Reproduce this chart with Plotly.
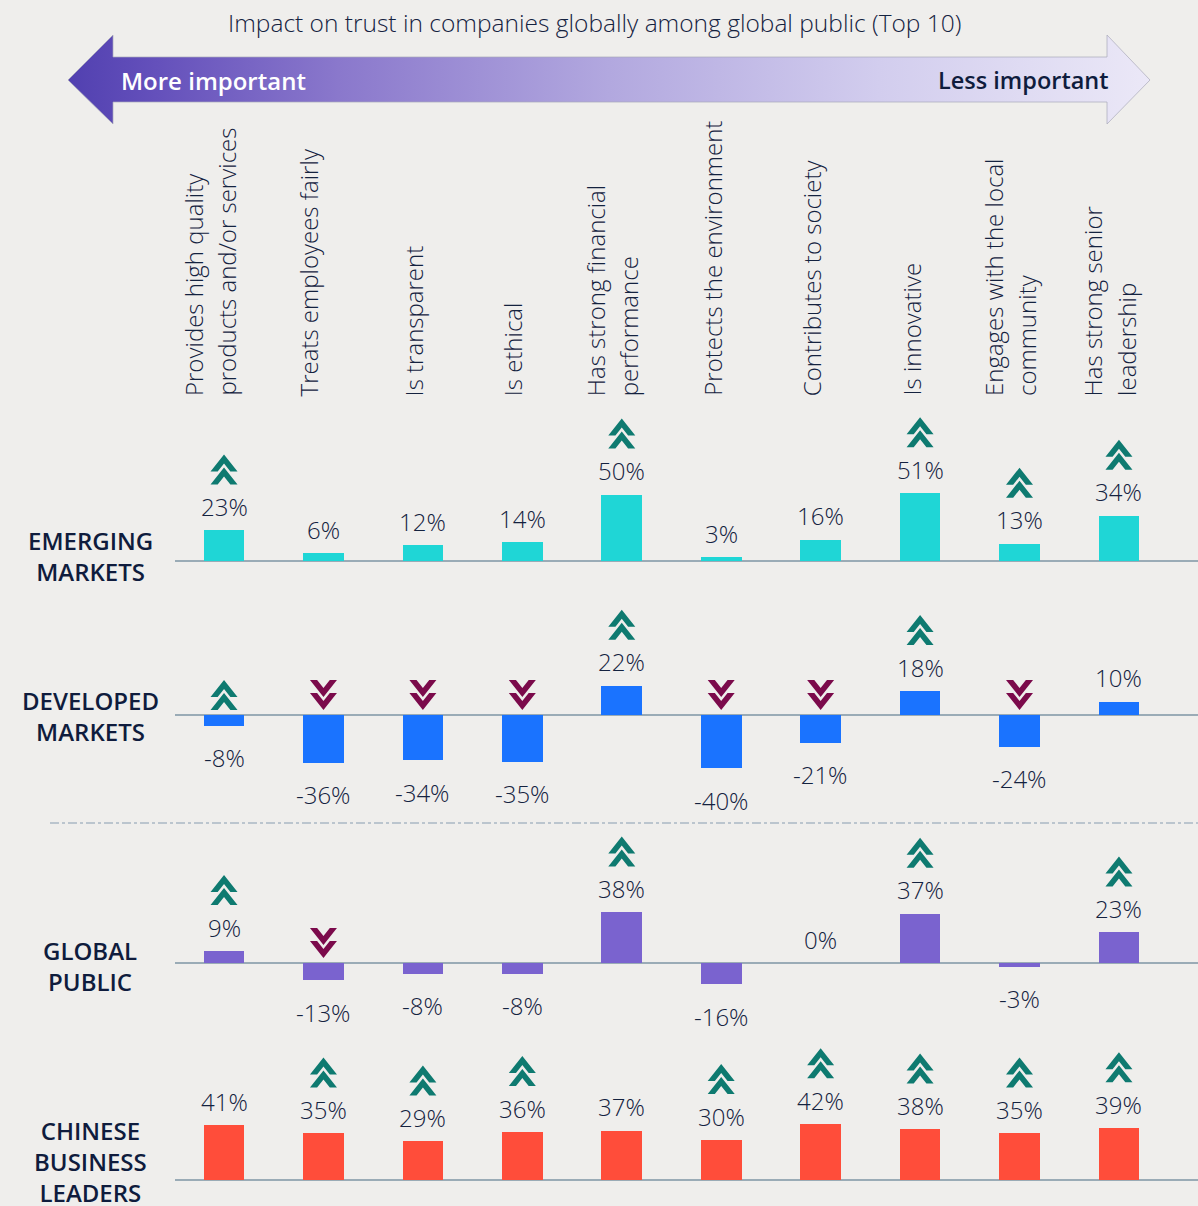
import plotly.graph_objects as go

# Data
categories = [
    'Provides high quality<br>products and/or services',
    'Treats employees fairly',
    'Is transparent',
    'Is ethical',
    'Has strong financial<br>performance',
    'Protects the environment',
    'Contributes to society',
    'Is innovative',
    'Engages with the local<br>community',
    'Has strong senior<br>leadership',
]
segments = ['EMERGING<br>MARKETS', 'DEVELOPED<br>MARKETS', 'GLOBAL<br>PUBLIC',
            'CHINESE<br>BUSINESS<br>LEADERS']

emerging = [23, 6, 12, 14, 50, 3, 16, 51, 13, 34]
developed = [-8, -36, -34, -35, 22, -40, -21, 18, -24, 10]
global_public = [9, -13, -8, -8, 38, -16, 0, 37, -3, 23]
chinese_leaders = [41, 35, 29, 36, 37, 30, 42, 38, 35, 39]

# trend marks shown next to each bar ('' = none)
emerging_trend = ['up', '', '', '', 'up', '', '', 'up', 'up', 'up']
developed_trend = ['up', 'down', 'down', 'down', 'up', 'down', 'down', 'up', 'down', '']
global_trend = ['up', 'down', '', '', 'up', '', '', 'up', '', 'up']
chinese_trend = ['', 'up', 'up', 'up', '', 'up', 'up', 'up', 'up', 'up']

series = [emerging, developed, global_public, chinese_leaders]
trends = [emerging_trend, developed_trend, global_trend, chinese_trend]
bar_colors = ['#1fd6d6', '#1a73ff', '#7a63cf', '#ff4d3a']

# Layout helpers (pixels)
W, H = 1198, 1206
S = 1.33  # px per percentage point
bands = [(400, 600, 561), (600, 820, 715), (830, 1035, 963), (1035, 1206, 1180)]
label_y = [556, 716, 966, 1161]
x_lo, x_hi = -0.493, 9.795

TEXT = '#14223f'
FONT = 'Open Sans'
UP_COLOR = '#0e7a70'
DOWN_COLOR = '#7b0a4b'


def chevron(apex, up):
    s = -1 if up else 1
    pts = [(0, apex), (13.5, apex + s * 17), (6.35, apex + s * 17), (0, apex + s * 9),
           (-6.35, apex + s * 17), (-13.5, apex + s * 17)]
    return 'M' + 'L'.join(f'{x},{y}' for x, y in pts) + 'Z'


def double_chevron(base, up):
    if up:
        return chevron(base + 30, True) + ' ' + chevron(base + 17, True)
    return chevron(base + 13, False) + ' ' + chevron(base, False)


fig = go.Figure()
layout = {}
annotations = []
shapes = []

for k, (vals, trend, color, band) in enumerate(zip(series, trends, bar_colors, bands), start=1):
    top, bottom, base = band
    xn = 'x' if k == 1 else f'x{k}'
    yn = 'y' if k == 1 else f'y{k}'
    fig.add_trace(go.Bar(
        x=list(range(len(categories))), y=vals, xaxis=xn, yaxis=yn,
        width=0.41, marker=dict(color=color, line=dict(width=0)),
        showlegend=False, hoverinfo='y'
    ))
    layout['xaxis' + ('' if k == 1 else str(k))] = dict(
        domain=[175 / W, 1], range=[x_lo, x_hi], visible=False, anchor=yn
    )
    layout['yaxis' + ('' if k == 1 else str(k))] = dict(
        domain=[1 - bottom / H, 1 - top / H],
        range=[-(bottom - base) / S, (base - top) / S],
        showgrid=False, showticklabels=False, ticks='', showline=False,
        zeroline=True, zerolinecolor='#9aabb6', zerolinewidth=2, anchor=xn
    )
    for i, v in enumerate(vals):
        annotations.append(dict(
            x=i, y=v, xref=xn, yref=yn, text=f'{v}%', showarrow=False,
            xanchor='center', yanchor='middle',
            yshift=24 if v >= 0 else -32,
            font=dict(family=FONT, size=24, color=TEXT, weight=300)
        ))
        if trend[i]:
            anchor = v if v > 0 else 0
            offset = 46 if v > 0 else 5
            shapes.append(dict(
                type='path', xref=xn, yref=yn, xsizemode='pixel', ysizemode='pixel',
                xanchor=i, yanchor=anchor,
                path=double_chevron(offset, trend[i] == 'up'),
                fillcolor=UP_COLOR if trend[i] == 'up' else DOWN_COLOR,
                line=dict(width=0)
            ))
    annotations.append(dict(
        x=90 / W, y=1 - label_y[k - 1] / H, xref='paper', yref='paper',
        xanchor='center', yanchor='middle',
        text=segments[k - 1], showarrow=False, align='center',
        font=dict(family=FONT, size=24, color='#0f1c3d', weight=600)
    ))

# rotated category labels
for i, cat in enumerate(categories):
    lines = cat.split('<br>')
    n = len(lines)
    for j, line in enumerate(lines):
        annotations.append(dict(
            x=i, y=1 - 398 / H, xref='x', yref='paper', text=line, showarrow=False,
            textangle=-90, xanchor='center', yanchor='bottom',
            xshift=(-14 if i < 2 else -9) + (j - (n - 1) / 2) * 33,
            font=dict(family=FONT, size=24, color=TEXT, weight=300)
        ))

# title
annotations.append(dict(
    x=594 / W, y=1 - 23 / H, xref='paper', yref='paper', showarrow=False,
    xanchor='center', yanchor='middle',
    text='Impact on trust in companies globally among global public (Top 10)',
    font=dict(family=FONT, size=24.5, color=TEXT, weight=300)
))

# gradient double-headed arrow (decorative, pixel axes)
arrow_x = [68, 113, 113, 1107, 1107, 1150, 1107, 1107, 113, 113, 68]
arrow_y = [80, 35, 57, 57, 35, 80, 124, 102, 102, 124, 80]
fig.add_trace(go.Scatter(
    x=arrow_x, y=arrow_y, xaxis='x5', yaxis='y5', mode='lines', fill='toself',
    line=dict(color='rgba(170,170,185,0.7)', width=1),
    fillgradient=dict(type='horizontal', colorscale=[
        [0, '#5140b0'], [0.08, '#6450bb'], [0.25, '#8a78cc'], [0.5, '#b2a8df'],
        [0.75, '#d2cdee'], [1, '#ebe8f7']]),
    hoverinfo='skip', showlegend=False
))
layout['xaxis5'] = dict(domain=[0, 1], range=[0, W], visible=False, anchor='y5')
layout['yaxis5'] = dict(domain=[0, 1], range=[H, 0], visible=False, anchor='x5')

annotations.append(dict(
    x=119 / W, y=1 - 80 / H, xref='paper', yref='paper', xanchor='left', yanchor='middle',
    showarrow=False, text='More important',
    font=dict(family=FONT, size=24, color='white', weight=600)
))
annotations.append(dict(
    x=1111 / W, y=1 - 80 / H, xref='paper', yref='paper', xanchor='right', yanchor='middle',
    showarrow=False, text='Less important',
    font=dict(family=FONT, size=23.5, color='#0f1c3d', weight=600)
))

# dashed separator
shapes.append(dict(
    type='line', xref='paper', yref='paper', x0=50 / W, x1=1, y0=1 - 823 / H, y1=1 - 823 / H,
    line=dict(color='#aab8c4', width=1.5, dash='dashdot')
))

fig.update_layout(
    width=W, height=H, margin=dict(l=0, r=0, t=0, b=0),
    paper_bgcolor='#efeeec', plot_bgcolor='rgba(0,0,0,0)',
    bargap=0, annotations=annotations, shapes=shapes, **layout
)

fig.write_html('out.html', config={'displayModeBar': False},
               post_script="document.body.style.margin='0';")
